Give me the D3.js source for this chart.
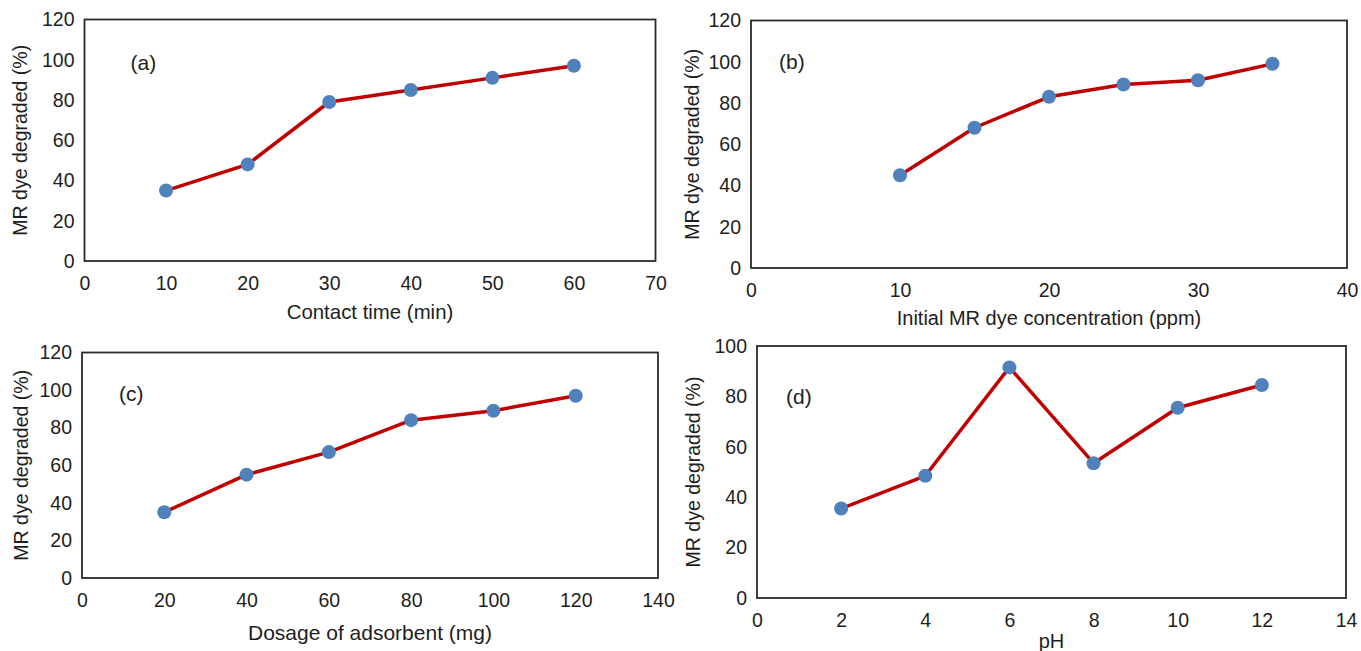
<!DOCTYPE html>
<html>
<head>
<meta charset="utf-8">
<script src="https://cdn.jsdelivr.net/npm/d3@7"></script>
<style>
  body { margin: 0; background: #fff; }
  svg text { font-family: "Liberation Sans", Arial, sans-serif; fill: #1e1e1e; }
</style>
</head>
<body>
<div id="chart"></div>
<script>
// values
const contactTime = [10, 20, 30, 40, 50, 60];
const degradedByTime = [35, 48, 79, 85, 91, 97];

const initialConc = [10, 15, 20, 25, 30, 35];
const degradedByConc = [45, 68, 83, 89, 91, 99];

const dosage = [20, 40, 60, 80, 100, 120];
const degradedByDosage = [35, 55, 67, 84, 89, 97];

const phValues = [2, 4, 6, 8, 10, 12];
const degradedByPh = [35.5, 48.5, 91.5, 53.5, 75.5, 84.5];

const yTitle = "MR dye degraded (%)";

const width = 1361, height = 651;

const svg = d3.select('#chart')
  .append('svg')
    .attr('width', width)
    .attr('height', height);

// one entry per panel: box position in px + axis settings
const panels = [
  { label: "(a)", xs: contactTime, ys: degradedByTime, xMax: 70, xStep: 10, yMax: 120,
    xTitle: "Contact time (min)", titleSize: 20.4,
    left: 84.5, right: 655.5, top: 19.5, bottom: 261, yTitleX: 20, xTitleY: 312, lab: [46, 43] },
  { label: "(b)", xs: initialConc, ys: degradedByConc, xMax: 40, xStep: 10, yMax: 120,
    xTitle: "Initial MR dye concentration (ppm)", titleSize: 20,
    left: 751, right: 1347, top: 20.5, bottom: 268, yTitleX: 692, xTitleY: 318, lab: [28, 41] },
  { label: "(c)", xs: dosage, ys: degradedByDosage, xMax: 140, xStep: 20, yMax: 120,
    xTitle: "Dosage of adsorbent (mg)", titleSize: 21,
    left: 82, right: 658, top: 352.5, bottom: 578, yTitleX: 21, xTitleY: 632, lab: [37, 41] },
  { label: "(d)", xs: phValues, ys: degradedByPh, xMax: 14, xStep: 2, yMax: 100,
    xTitle: "pH", titleSize: 20,
    left: 757, right: 1346, top: 346, bottom: 598, yTitleX: 693, xTitleY: 641, lab: [29, 50] }
];

panels.forEach(p => {
  const g = svg.append('g');

  const x = d3.scaleLinear()
      .domain([0, p.xMax])
      .range([p.left, p.right]);

  const y = d3.scaleLinear()
      .domain([0, p.yMax])
      .range([p.bottom, p.top]);

  const xAxis = d3.axisBottom(x)
      .tickValues(d3.range(0, p.xMax + 1, p.xStep))
      .tickSize(0)
      .tickPadding(15);

  const yAxis = d3.axisLeft(y)
      .tickValues(d3.range(0, p.yMax + 1, 20))
      .tickSize(0)
      .tickPadding(10);

  g.append('g')
      .attr('transform', `translate(0,${p.bottom})`)
      .call(xAxis)
      .call(a => a.select('.domain').remove())
      .selectAll('text')
        .style('font-size', '19.5px')
        .attr('fill', '#1e1e1e');

  g.append('g')
      .attr('transform', `translate(${p.left},0)`)
      .call(yAxis)
      .call(a => a.select('.domain').remove())
      .selectAll('text')
        .style('font-size', '19.5px')
        .attr('fill', '#1e1e1e');

  // plot frame
  g.append('rect')
      .attr('x', p.left)
      .attr('y', p.top)
      .attr('width', p.right - p.left)
      .attr('height', p.bottom - p.top)
      .attr('fill', 'none')
      .attr('stroke', '#2a2a2a')
      .attr('stroke-width', 1.8);

  const pts = p.xs.map((v, i) => [v, p.ys[i]]);

  const line = d3.line()
      .x(d => x(d[0]))
      .y(d => y(d[1]));

  g.append('path')
      .datum(pts)
      .attr('d', line)
      .attr('fill', 'none')
      .attr('stroke', '#c00000')
      .attr('stroke-width', 3.5)
      .attr('stroke-linejoin', 'round');

  g.selectAll('circle')
    .data(pts)
    .join('circle')
      .attr('cx', d => x(d[0]))
      .attr('cy', d => y(d[1]))
      .attr('r', 7)
      .attr('fill', '#4f81bd');

  g.append('text')
      .attr('x', p.left + p.lab[0])
      .attr('y', p.top + p.lab[1])
      .attr('dominant-baseline', 'central')
      .style('font-size', '21px')
      .text(p.label);

  g.append('text')
      .attr('x', (p.left + p.right) / 2)
      .attr('y', p.xTitleY)
      .attr('text-anchor', 'middle')
      .attr('dominant-baseline', 'central')
      .style('font-size', p.titleSize + 'px')
      .text(p.xTitle);

  g.append('text')
      .attr('transform', `translate(${p.yTitleX},${(p.top + p.bottom) / 2}) rotate(-90)`)
      .attr('text-anchor', 'middle')
      .attr('dominant-baseline', 'central')
      .style('font-size', '19.5px')
      .text(yTitle);
});
</script>
</body>
</html>
